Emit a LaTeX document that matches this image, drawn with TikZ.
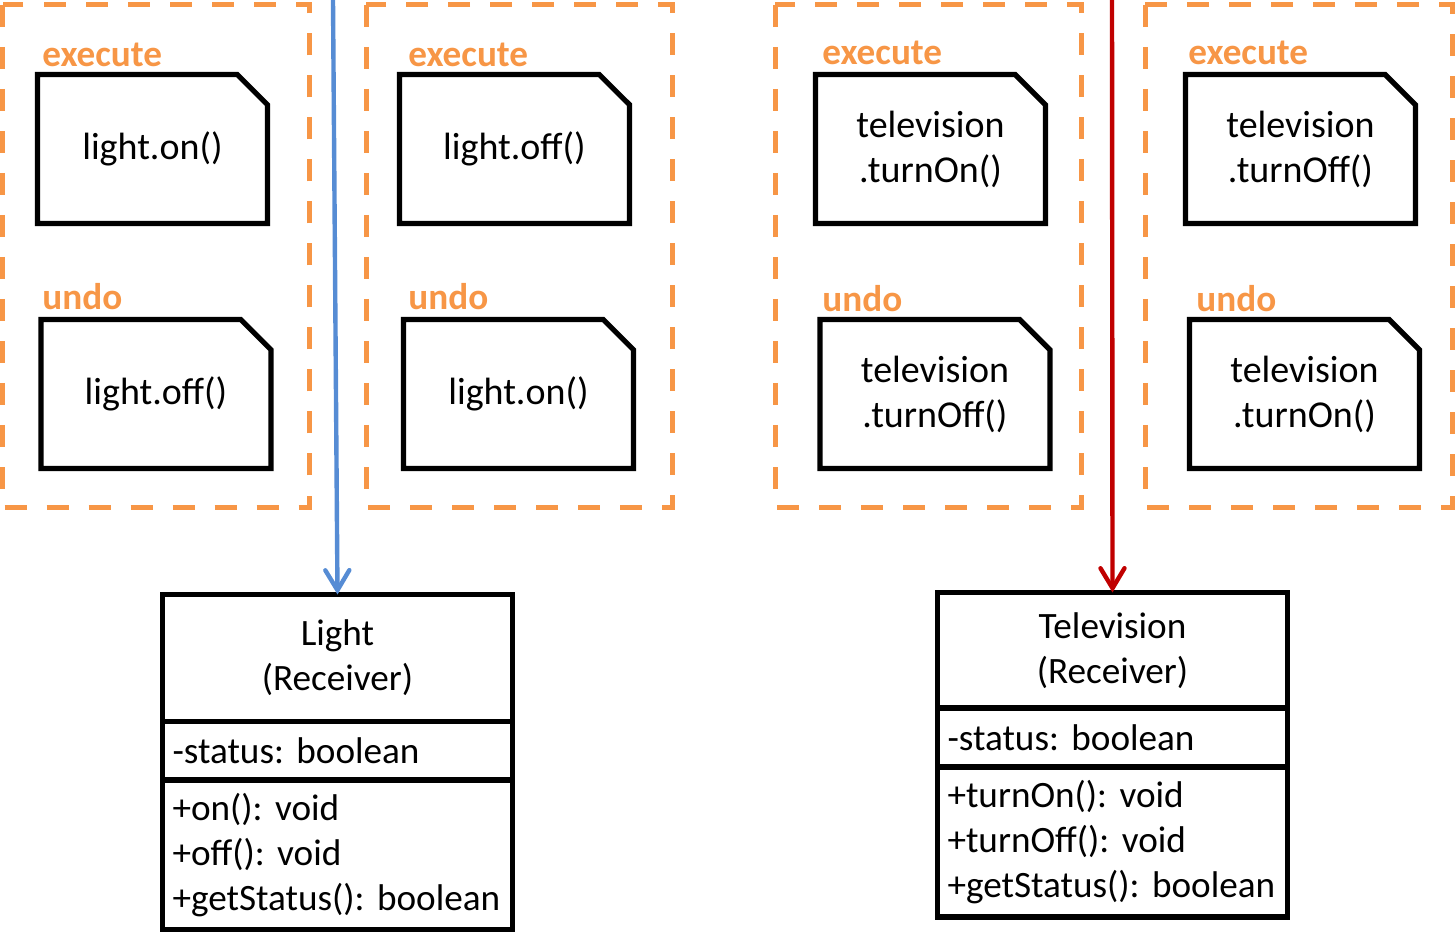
\documentclass[tikz,border=0pt]{standalone}
\usepackage{fontspec}
\setmainfont{Carlito}
\usetikzlibrary{positioning,shapes.misc,arrows.meta}
\definecolor{cmdorange}{RGB}{247,150,70}
\definecolor{lightblue}{RGB}{86,140,212}
\definecolor{tvred}{RGB}{192,0,0}
\frenchspacing
\tikzset{
  grp/.style={draw=cmdorange, line width=2.5pt, dash pattern=on 11pt off 10pt},
  lbl/.style={anchor=base west, text=cmdorange, inner sep=0pt, font=\fontsize{18.6}{22}\selectfont\bfseries},
  note/.style={chamfered rectangle, chamfered rectangle corners=north east, chamfered rectangle xsep=12pt,
    draw, line width=2.6pt, minimum width=115pt, minimum height=74.5pt, align=center,
    font=\fontsize{19}{22.5}\selectfont},
  part/.style={draw, line width=2.6pt, outer sep=0pt, text width=165pt, inner xsep=5pt, inner ysep=2pt,
    font=\fontsize{18.6}{22.5}\selectfont},
  link/.style={line width=2.2pt, line cap=round, -{Straight Barb[length=10pt,width=12pt,line cap=round]}}
}
\begin{document}
\begin{tikzpicture}[x=0.5pt,y=-0.5pt]
\useasboundingbox (0,0) rectangle (1456,946);

\coordinate (ltop) at (333,0);
\coordinate (ttop) at (1112,0);

\draw[grp] (2.5,5) rectangle (309,507);
\draw[grp] (366,5) rectangle (672,507);
\draw[grp] (775,5) rectangle (1081,507);
\draw[grp] (1145,5) rectangle (1452,507);

\node[lbl] (lx1) at (42,67) {execute};
\node[lbl] (lu1) at (42,310) {undo};
\node[lbl] (lx2) at (408,67) {execute};
\node[lbl] (lu2) at (408,310) {undo};
\node[lbl] (tx1) at (822,65) {execute};
\node[lbl] (tu1) at (822,312) {undo};
\node[lbl] (tx2) at (1188,65) {execute};
\node[lbl] (tu2) at (1196,312) {undo};

\node[note] (lon) at (152.5,149) {light.on()};
\node[note] (loff) at (156,394) {light.off()};
\node[note] (loff2) at (514.5,149) {light.off()};
\node[note] (lon2) at (518.5,394) {light.on()};
\node[note] (ton) at (930.5,149) {television\\.turnOn()};
\node[note] (toff) at (935,394) {television\\.turnOff()};
\node[note] (toff2) at (1300.5,149) {television\\.turnOff()};
\node[note] (ton2) at (1304.5,394) {television\\.turnOn()};

\node[part, align=center, minimum height=63.5pt] (light) at (337.5,658) {Light\\(Receiver)};
\node[part, align=left, minimum height=29.25pt, below=0pt of light] (lightattr) {-status: boolean};
\node[part, align=left, minimum height=74.75pt, below=0pt of lightattr] (lightops) {+on(): void\\+off(): void\\+getStatus(): boolean};

\node[part, align=center, minimum height=57.75pt] (tv) at (1112.5,650.25) {Television\\(Receiver)};
\node[part, align=left, minimum height=29.5pt, below=0pt of tv] (tvattr) {-status: boolean};
\node[part, align=left, minimum height=75pt, below=0pt of tvattr] (tvops) {+turnOn(): void\\+turnOff(): void\\+getStatus(): boolean};

\draw[link, lightblue] (ltop) -- (light.north);
\draw[link, tvred] (ttop) -- (tv.north);

\end{tikzpicture}
\end{document}
